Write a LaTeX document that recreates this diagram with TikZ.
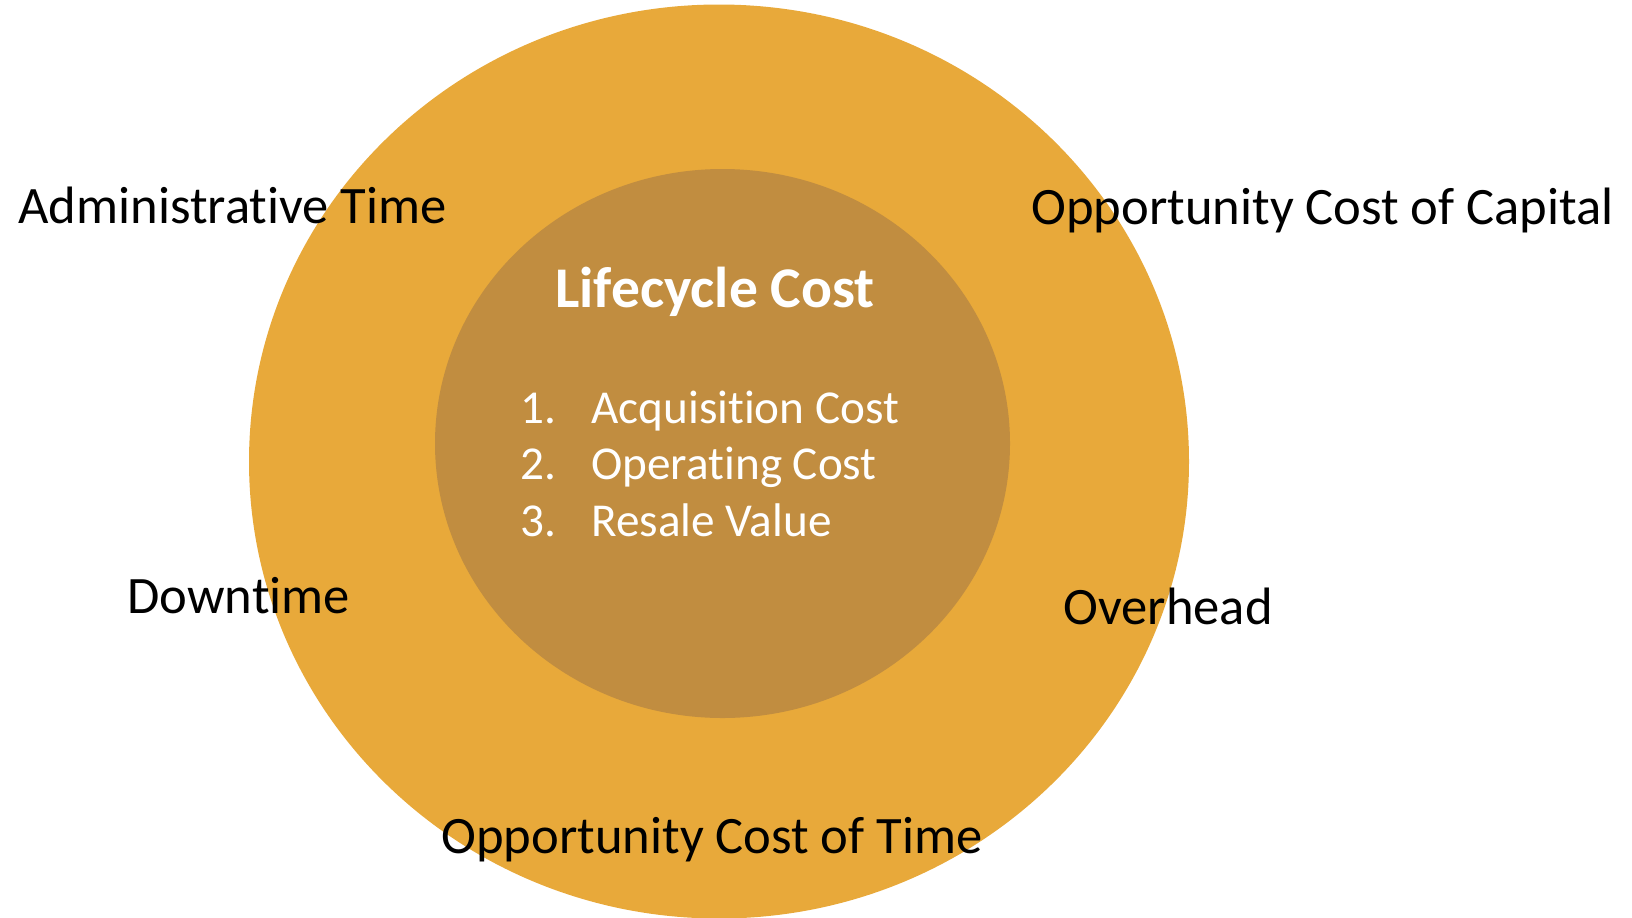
\documentclass[tikz,border=0pt]{standalone}
\usepackage{fontspec}
\setmainfont[Ligatures=NoCommon]{Carlito}
\usetikzlibrary{shapes.geometric}
\definecolor{outerc}{RGB}{232,169,58}
\definecolor{innerc}{RGB}{193,141,64}
\tikzset{
  ring/.style={ellipse, inner sep=0, draw=none},
  lbl/.style={anchor=base west, inner sep=0, text=black, font=\fontsize{26.3}{31}\selectfont},
  ttl/.style={anchor=base west, inner sep=0, text=white, font=\fontsize{28.8}{34}\selectfont\bfseries},
  itm/.style={anchor=base west, inner sep=0, text=white, font=\fontsize{23.6}{28}\selectfont}
}
\begin{document}
\begin{tikzpicture}[x=0.5pt,y=-0.5pt]
\useasboundingbox (0,0) rectangle (1632,917);
\node[ring, fill=outerc, minimum width=470pt, minimum height=457pt] (outer) at (719,461.5) {};
\node[ring, fill=innerc, minimum width=287.5pt, minimum height=274.5pt] (inner) at (722.5,443.5) {};
\node[ttl] (title) at (555,307) {Lifecycle Cost};
\node[itm] (n1) at (520,423) {1.};
\node[itm] (t1) at (591,423) {Acquisition Cost};
\node[itm] (n2) at (520,479) {2.};
\node[itm] (t2) at (591,479) {Operating Cost};
\node[itm] (n3) at (520,536) {3.};
\node[itm] (t3) at (591,536) {Resale Value};
\node[lbl] (admin) at (18,223) {Administrative Time};
\node[lbl] (capital) at (1031,224) {Opportunity Cost of Capital};
\node[lbl] (down) at (127,613) {Downtime};
\node[lbl] (over) at (1063,624) {Overhead};
\node[lbl] (otime) at (441,853) {Opportunity Cost of Time};
\end{tikzpicture}
\end{document}
